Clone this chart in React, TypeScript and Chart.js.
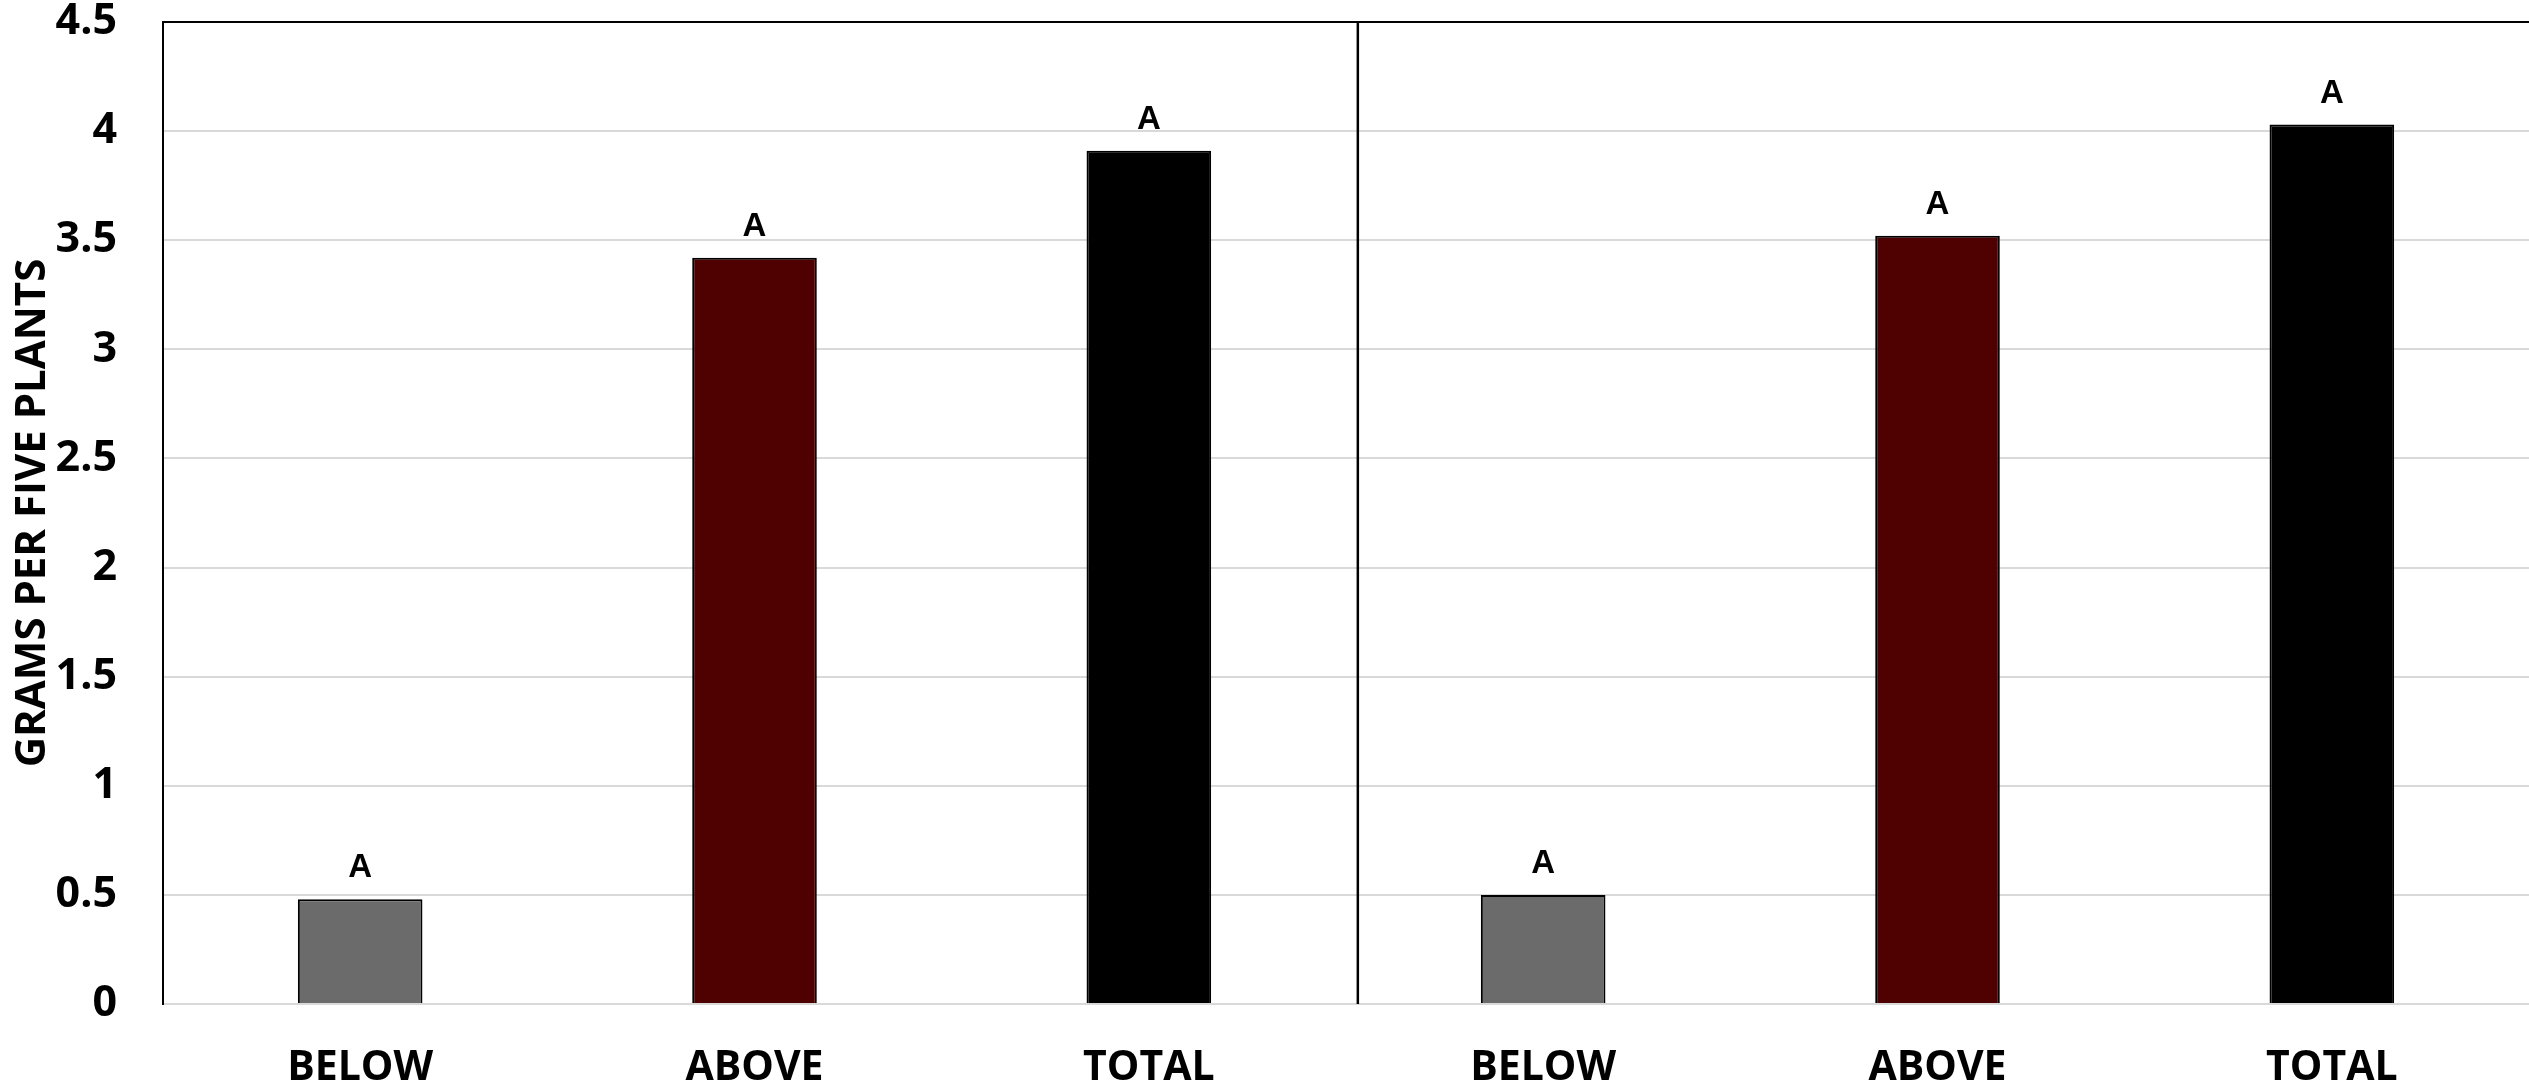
import React, { useEffect, useRef } from "react";
import { Chart, registerables } from "chart.js";

Chart.register(...registerables);

const categories = ["BELOW", "ABOVE", "TOTAL", "BELOW", "ABOVE", "TOTAL"];
const values = [0.48, 3.42, 3.91, 0.5, 3.52, 4.03];
const letters = ["A", "A", "A", "A", "A", "A"];
const barColors = ["#6b6b6b", "#4f0000", "#000000", "#6b6b6b", "#4f0000", "#000000"];
const yTitle = "GRAMS PER FIVE PLANTS";
const yMin = 0;
const yMax = 4.5;
const yStep = 0.5;
const dividerAt = 2.53; // category-space position of the group divider

const W = 2529;
const H = 1088;

export default function App() {
  const ref = useRef<HTMLCanvasElement | null>(null);

  useEffect(() => {
    document.body.style.margin = "0";
    document.body.style.overflow = "hidden";
    const canvas = ref.current!;
    const lettersPlugin = {
      id: "letters",
      afterDatasetsDraw(chart: any) {
        const ctx = chart.ctx;
        const meta = chart.getDatasetMeta(0);
        ctx.save();
        ctx.fillStyle = "#000";
        ctx.font = "bold 33px 'Liberation Sans', Arial, sans-serif";
        ctx.textAlign = "center";
        ctx.textBaseline = "alphabetic";
        meta.data.forEach((el: any, i: number) => {
          ctx.fillText(letters[i], el.x, el.y - 22);
        });
        ctx.restore();
      },
    };
    const framePlugin = {
      id: "frame",
      afterDraw(chart: any) {
        const ctx = chart.ctx;
        const { top, bottom } = chart.chartArea;
        const xs = chart.scales.x;
        const step = xs.getPixelForValue(1) - xs.getPixelForValue(0);
        const x = xs.getPixelForValue(0) + dividerAt * step;
        ctx.save();
        ctx.strokeStyle = "#000";
        ctx.lineWidth = 2.5;
        ctx.beginPath();
        ctx.moveTo(x, top);
        ctx.lineTo(x, bottom);
        ctx.stroke();
        ctx.restore();
      },
    };
    const chart = new Chart(canvas, {
      type: "bar",
      data: {
        labels: categories,
        datasets: [
          {
            data: values,
            backgroundColor: barColors,
            borderColor: "#000",
            borderWidth: 2,
            barPercentage: 0.316,
            categoryPercentage: 1,
          },
        ],
      },
      options: {
        responsive: false,
        animation: false,
        devicePixelRatio: 1,
        layout: { padding: { top: 22, right: 0, bottom: 0, left: 0 } },
        plugins: {
          legend: { display: false },
          tooltip: { enabled: false },
        },
        scales: {
          x: {
            offset: true,
            afterFit(scale: any) {
              scale.height = 84;
            },
            grid: { display: false, drawTicks: false },
            border: { display: true, color: "#d9d9d9", width: 2 },
            ticks: {
              color: "#000",
              padding: 40,
              font: { family: "'Open Sans', sans-serif", size: 41, weight: "bold" },
              maxRotation: 0,
              autoSkip: false,
            },
          },
          y: {
            min: yMin,
            max: yMax,
            afterFit(scale: any) {
              scale.width = 163;
              scale.paddingTop = 0;
              scale.paddingBottom = 0;
            },
            grid: {
              drawTicks: false,
              lineWidth: 2,
              color: (c: any) => (c.tick && c.tick.value === yMax ? "#000" : "#d9d9d9"),
            },
            border: { display: true, color: "#000", width: 2 },
            ticks: {
              stepSize: yStep,
              color: "#000",
              padding: 46,
              callback: (v: any) => String(v),
              font: { family: "'Open Sans', sans-serif", size: 43, weight: "bold", lineHeight: 1 },
            },
            title: {
              display: true,
              text: yTitle,
              color: "#000",
              padding: { top: 8, bottom: 0 },
              font: { family: "'Open Sans', sans-serif", size: 42, weight: "bold" },
            },
          },
        },
      },
      plugins: [lettersPlugin, framePlugin],
    });
    return () => chart.destroy();
  }, []);

  return (
    <canvas
      ref={ref}
      width={W}
      height={H}
      style={{ display: "block", width: W + "px", height: H + "px" }}
    />
  );
}
